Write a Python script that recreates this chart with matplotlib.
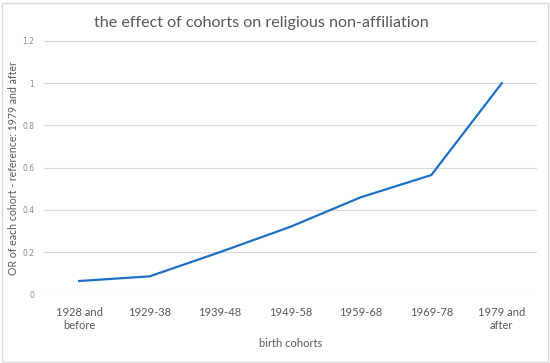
import matplotlib
matplotlib.use("Agg")
import matplotlib.pyplot as plt
from matplotlib.patches import Rectangle

categories = ["1928 and\nbefore", "1929-38", "1939-48", "1949-58", "1959-68", "1969-78", "1979 and\nafter"]
values = [0.063, 0.085, 0.20, 0.32, 0.46, 0.565, 1.0]
yticks = [0, 0.2, 0.4, 0.6, 0.8, 1, 1.2]
ytick_labels = ["0", "0.2", "0.4", "0.6", "0.8", "1", "1.2"]

plt.rcParams['font.family'] = ['Lato', 'DejaVu Sans']

fig = plt.figure(figsize=(5.5, 3.63), dpi=100)
W, H = 550, 363
ax = fig.add_axes([44 / W, 1 - 294.3 / H, (537 - 44) / W, (294.3 - 41) / H])

x = list(range(len(categories)))
ax.plot(x, values, color="#1F6FC8", linewidth=1.6, solid_joinstyle='miter')

ax.set_xlim(-0.5, len(categories) - 0.5)
ax.set_ylim(0, 1.2)
ax.set_yticks(yticks)
ax.set_yticklabels(ytick_labels, fontsize=5.5, color="#8c8c8c", family=['DejaVu Sans'])
ax.set_xticks(x)
ax.set_xticklabels(categories, fontsize=8, color="#595959", linespacing=1.2)
ax.tick_params(axis='both', length=0)
ax.tick_params(axis='y', pad=7)
ax.tick_params(axis='x', pad=9)
ax.grid(axis='y', color="#d9d9d9", linewidth=0.8)
ax.set_axisbelow(True)
for s in ax.spines.values():
    s.set_visible(False)

ax.set_ylabel("OR of each cohort - reference: 1979 and after", fontsize=7.6, color="#595959")
ax.yaxis.set_label_coords(-25 / (537 - 44), (294.3 - 168) / (294.3 - 41))
ax.set_xlabel("birth cohorts", fontsize=8, color="#595959", labelpad=5)

fig.text(0.476, 1 - 23 / H, "the effect of cohorts on religious non-affiliation",
         ha='center', va='center', fontsize=11.6, color="#595959")

fig.patches.append(Rectangle((1.5 / W, 1.5 / H), 1 - 4 / W, 1 - 4 / H, transform=fig.transFigure,
                             fill=False, edgecolor="#d9d9d9", linewidth=1.0))

fig.savefig("out.png", dpi=100)
